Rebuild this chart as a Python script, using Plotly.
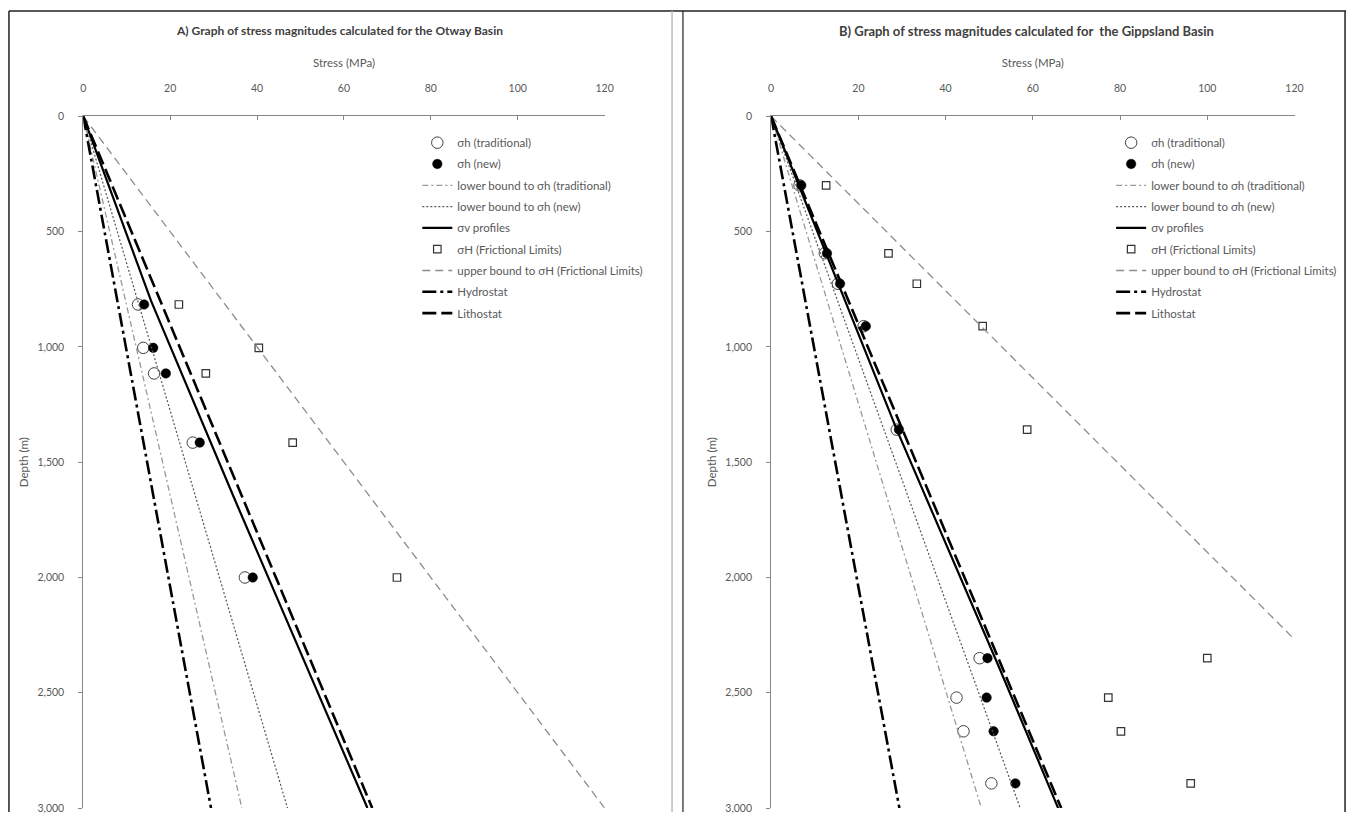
import plotly.graph_objects as go

W, H = 1360, 818

# ---------------- Data ----------------
# A) Otway Basin
depth_A = [816, 1004, 1115, 1415, 2000]
sh_trad_A = [12.6, 13.8, 16.3, 25.2, 37.2]
sh_new_A = [14.0, 16.1, 19.0, 26.8, 39.0]
sH_A = [22.0, 40.4, 28.2, 48.2, 72.2]
line_depth_A = [0, 3000]
lower_trad_A = [0, 36.5]
lower_new_A = [0, 47.0]
upper_A = [0, 120.0]
hydro_A = [0, 29.4]
litho_A = [0, 66.5]
sv_depth_A = [0, 800, 1650, 3000]
sv_A = [0, 15.6, 34.6, 65.4]

# B) Gippsland Basin
depth_B = [299, 594, 726, 910, 1359, 2350, 2521, 2667, 2893]
sh_trad_B = [6.5, 12.3, 15.3, 21.2, 28.8, 47.8, 42.5, 44.1, 50.5]
sh_new_B = [6.9, 12.8, 15.8, 21.7, 29.3, 49.6, 49.4, 51.0, 56.0]
sH_B = [12.6, 26.9, 33.4, 48.5, 58.7, 100.0, 77.3, 80.2, 96.2]
line_depth_B = [0, 3000]
lower_trad_B = [0, 48.2]
lower_new_B = [0, 57.1]
upper_B = [0, 158.7]
hydro_B = [0, 29.4]
litho_B = [0, 66.5]
sv_depth_B = [0, 726, 1359, 2400, 3000]
sv_B = [0, 15.4, 28.8, 52.5, 65.8]

x_ticks = [0, 20, 40, 60, 80, 100, 120]
y_ticks = [0, 500, 1000, 1500, 2000, 2500, 3000]

names = ["σh (traditional)", "σh (new)", "lower bound to σh (traditional)",
         "lower bound to σh (new)", "σv profiles", "σH (Frictional Limits)",
         "upper bound to σH (Frictional Limits)", "Hydrostat", "Lithostat"]

titles = ["<b>A) Graph of stress magnitudes calculated for the Otway Basin</b>",
          "<b>B) Graph of stress magnitudes calculated for \u00a0the Gippsland Basin</b>"]

FONT = "Lato, 'Open Sans', sans-serif"
TXT = "#595959"

fig = go.Figure()


def add_panel(p, depth, sh_t, sh_n, sH, ld, lt, ln, up, hy, li, svd, sv):
    xa = "x" if p == 1 else "x2"
    ya = "y" if p == 1 else "y2"
    lg = "legend" if p == 1 else "legend2"
    common = dict(xaxis=xa, yaxis=ya, legend=lg)
    g = lambda i: f"p{p}g{i}"
    fig.add_trace(go.Scatter(x=sh_t, y=depth, mode="markers", name=names[0],
                             marker=dict(symbol="circle", size=11.5, color="white",
                                         line=dict(color="#404040", width=1)),
                             legendgroup=g(0), **common))
    fig.add_trace(go.Scatter(x=sh_n, y=depth, mode="markers", name=names[1],
                             marker=dict(symbol="circle", size=9.5, color="black",
                                         line=dict(color="black", width=0.5)),
                             legendgroup=g(1), **common))
    fig.add_trace(go.Scatter(x=lt, y=ld, mode="lines", name=names[2],
                             line=dict(color="#999999", width=1.3, dash="6px,3px,2px,3px"),
                             legendgroup=g(2), **common))
    fig.add_trace(go.Scatter(x=ln, y=ld, mode="lines", name=names[3],
                             line=dict(color="#555555", width=1.2, dash="2px,2px"),
                             legendgroup=g(3), **common))
    fig.add_trace(go.Scatter(x=sv, y=svd, mode="lines", name=names[4],
                             line=dict(color="black", width=2.2),
                             legendgroup=g(4), **common))
    fig.add_trace(go.Scatter(x=sH, y=depth, mode="markers", name=names[5],
                             marker=dict(symbol="square", size=7.5, color="white",
                                         line=dict(color="#333333", width=1.2)),
                             legendgroup=g(5), **common))
    fig.add_trace(go.Scatter(x=up, y=ld, mode="lines", name=names[6],
                             line=dict(color="#8c8c8c", width=1.3, dash="8px,5px"),
                             legendgroup=g(6), **common))
    fig.add_trace(go.Scatter(x=hy, y=ld, mode="lines", name=names[7],
                             line=dict(color="black", width=2.6, dash="14px,4px,3px,4px"),
                             legendgroup=g(7), **common))
    fig.add_trace(go.Scatter(x=li, y=ld, mode="lines", name=names[8],
                             line=dict(color="black", width=2.6, dash="14px,5px"),
                             legendgroup=g(8), **common))


add_panel(1, depth_A, sh_trad_A, sh_new_A, sH_A, line_depth_A, lower_trad_A,
          lower_new_A, upper_A, hydro_A, litho_A, sv_depth_A, sv_A)
add_panel(2, depth_B, sh_trad_B, sh_new_B, sH_B, line_depth_B, lower_trad_B,
          lower_new_B, upper_B, hydro_B, litho_B, sv_depth_B, sv_B)

ydom = [1 - 814 / H, 1 - 112 / H]


def xax(dom, anchor):
    return dict(domain=dom, anchor=anchor, side="top", range=[0, 120],
                tickvals=x_ticks, ticks="inside", ticklen=4, tickcolor="#868686",
                showline=True, linecolor="#868686", linewidth=1, showgrid=False,
                zeroline=False, tickfont=dict(size=10.5, color=TXT, family=FONT),
                ticklabelstandoff=19,
                title=dict(text="Stress (MPa)", font=dict(size=11.5, color=TXT, family=FONT),
                           standoff=12))


def yax(anchor):
    return dict(domain=ydom, anchor=anchor, range=[3000, 0], tickvals=y_ticks,
                tickformat=",", ticks="outside", ticklen=4, tickcolor="#868686",
                showline=True, linecolor="#868686", linewidth=1, showgrid=False,
                zeroline=False, tickfont=dict(size=10.5, color=TXT, family=FONT),
                ticklabelstandoff=12, ticklabeloverflow="allow",
                title=dict(text="Depth (m)", font=dict(size=11.5, color=TXT, family=FONT),
                           standoff=6))


leg = dict(xanchor="left", yanchor="top", bgcolor="rgba(0,0,0,0)",
           font=dict(size=11.5, color=TXT, family=FONT), tracegroupgap=2.3,
           traceorder="grouped")

fig.update_layout(
    width=W, height=H, autosize=False,
    margin=dict(l=0, r=0, t=0, b=0),
    paper_bgcolor="white", plot_bgcolor="white",
    font=dict(family=FONT, color=TXT),
    xaxis=xax([81 / W, 607 / W], "y"),
    yaxis=yax("x"),
    xaxis2=xax([775 / W, 1303 / W], "y2"),
    yaxis2=yax("x2"),
    legend=dict(x=418 / W, y=1 - 124 / H, **leg),
    legend2=dict(x=1118 / W, y=1 - 124 / H, **leg),
    annotations=[
        dict(text=titles[0], x=339 / W, y=1 - 25 / H, xref="paper", yref="paper",
             xanchor="center", yanchor="middle", showarrow=False,
             font=dict(size=12, color="#404040", family=FONT)),
        dict(text=titles[1], x=1033 / W, y=1 - 25 / H, xref="paper", yref="paper",
             xanchor="center", yanchor="middle", showarrow=False,
             font=dict(size=13, color="#404040", family=FONT)),
    ],
    shapes=[
        dict(type="line", xref="paper", yref="paper", x0=6 / W, x1=1355 / W,
             y0=1 - 5 / H, y1=1 - 5 / H, line=dict(color="#222222", width=1.5)),
        dict(type="line", xref="paper", yref="paper", x0=6 / W, x1=6 / W,
             y0=0, y1=1 - 5 / H, line=dict(color="#222222", width=1.5)),
        dict(type="line", xref="paper", yref="paper", x0=1354 / W, x1=1354 / W,
             y0=0, y1=1 - 5 / H, line=dict(color="#222222", width=1.5)),
        dict(type="line", xref="paper", yref="paper", x0=675 / W, x1=675 / W,
             y0=0, y1=1 - 5 / H, line=dict(color="#bbbbbb", width=1.5)),
        dict(type="line", xref="paper", yref="paper", x0=686 / W, x1=686 / W,
             y0=0, y1=1 - 5 / H, line=dict(color="#222222", width=1.2)),
    ],
)

fig.write_html("out.html", config={"displayModeBar": False},
               post_script="document.body.style.margin='0px';")
